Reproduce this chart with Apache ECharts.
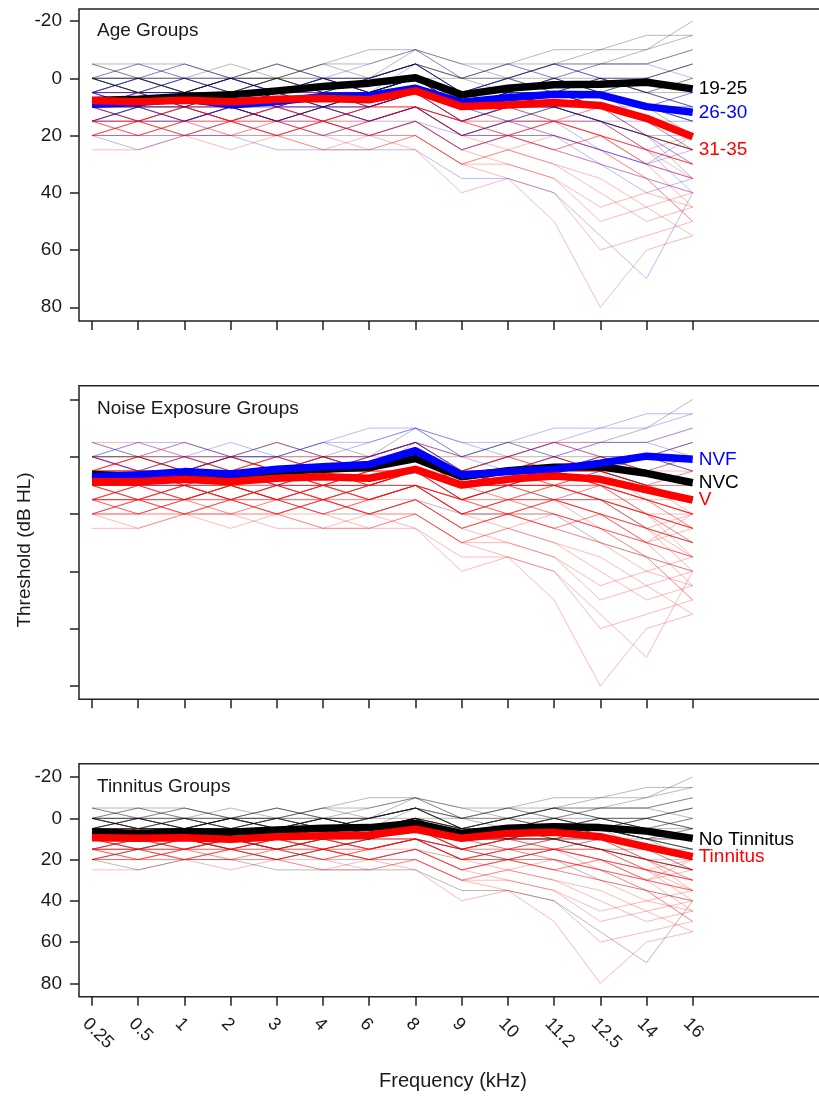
<!DOCTYPE html>
<html>
<head>
<meta charset="utf-8">
<script src="https://cdn.jsdelivr.net/npm/echarts@6/dist/echarts.min.js"></script>
<style>
  html, body { margin: 0; padding: 0; background: #fff; }
  #chart { width: 819px; height: 1096px; }
</style>
</head>
<body>
<div id="chart"></div>
<script>
// 频率 (kHz)
const freqs = ['0.25', '0.5', '1', '2', '3', '4', '6', '8', '9', '10', '11.2', '12.5', '14', '16'];
const yTicks = [-20, 0, 20, 40, 60, 80];

// group means (dB HL)
const age1925 = [7.8, 7.3, 6.4, 5.8, 4.4, 2.9, 1.7, -0.2, 5.8, 3.5, 2.3, 2.1, 1.4, 3.7];
const age2630 = [9.1, 8.5, 7.2, 9.3, 8.1, 6.4, 6.1, 3.5, 8.4, 6.8, 5.6, 5.8, 9.9, 11.9];
const age3135 = [7.8, 8.2, 7.7, 8.2, 7.3, 7.1, 7.5, 4.4, 9.9, 9.3, 8.5, 9.5, 14.0, 20.4];

const noiseNVC = [6.2, 7.0, 6.0, 7.0, 5.2, 4.4, 3.7, 0.6, 7.0, 4.9, 3.7, 3.5, 5.8, 9.1];
const noiseNVF = [7.0, 6.4, 5.2, 6.0, 4.4, 3.5, 2.7, -2.1, 6.4, 5.2, 4.4, 2.3, -0.2, 0.9];
const noiseV = [8.7, 8.7, 7.9, 8.7, 7.5, 7.0, 7.5, 4.4, 9.9, 7.9, 6.7, 7.9, 11.6, 15.1];

const tinNo = [6.5, 7.3, 6.5, 6.8, 5.7, 4.8, 4.5, 2.4, 7.3, 4.8, 4.1, 4.5, 6.2, 9.7];
const tinYes = [9.4, 9.7, 9.4, 10.2, 8.9, 8.4, 8.1, 5.3, 9.7, 7.3, 6.8, 8.9, 13.8, 18.6];

// individual audiograms (estimated from the faint lines)
const subjects = [
  [5, 5, 0, 5, 5, 0, 5, 0, 10, 5, 5, 0, 5, 10],
  [10, 10, 5, 10, 5, 10, 5, 0, 10, 5, 5, 5, 10, 15],
  [0, 0, -5, 0, 0, -5, 0, -10, 0, -5, -5, -5, -10, -20],
  [15, 15, 10, 15, 10, 10, 10, 5, 15, 10, 10, 15, 20, 25],
  [10, 5, 5, 5, 10, 5, 5, 5, 10, 10, 5, 10, 15, 20],
  [5, 10, 10, 10, 5, 5, 10, 5, 15, 10, 10, 10, 20, 30],
  [20, 20, 15, 20, 15, 20, 15, 10, 20, 20, 15, 20, 30, 45],
  [0, 5, 5, 0, 5, 0, 0, -5, 5, 0, -5, 0, 0, 5],
  [10, 15, 10, 15, 15, 10, 15, 10, 15, 15, 20, 25, 35, 50],
  [5, 0, 5, 5, 0, 5, 5, 0, 10, 5, 0, 5, 10, 20],
  [15, 10, 15, 10, 15, 15, 20, 15, 25, 20, 25, 30, 40, 35],
  [5, 5, 10, 5, 10, 10, 5, 5, 5, 10, 5, 10, 15, 15],
  [-5, 0, 0, -5, 0, -5, -10, -10, -5, -5, -10, -10, -15, -15],
  [10, 10, 10, 15, 10, 15, 10, 10, 20, 15, 15, 20, 25, 30],
  [20, 15, 20, 20, 20, 15, 20, 20, 30, 25, 30, 35, 45, 40],
  [5, 10, 5, 10, 5, 10, 10, 5, 10, 10, 10, 5, 10, 15],
  [0, -5, 0, 0, -5, 0, -5, -10, 0, -5, 0, -5, -5, 0],
  [10, 10, 15, 10, 15, 10, 15, 10, 15, 10, 15, 15, 20, 20],
  [15, 20, 15, 15, 10, 15, 10, 10, 20, 15, 15, 15, 25, 35],
  [25, 25, 20, 25, 20, 25, 25, 20, 30, 30, 35, 50, 45, 55],
  [0, 0, 5, 0, 5, 5, 5, 0, 5, 5, 5, 0, 5, 0],
  [5, 5, 5, 10, 10, 5, 10, 5, 10, 5, 10, 10, 10, 15],
  [10, 5, 10, 10, 5, 10, 5, 5, 10, 10, 5, 10, 15, 25],
  [15, 15, 15, 10, 15, 20, 20, 15, 20, 20, 20, 30, 35, 40],
  [0, 5, 0, 5, 5, 0, 5, -5, 5, 5, 0, 5, 0, 5],
  [20, 20, 20, 15, 20, 20, 15, 15, 25, 20, 20, 25, 30, 25],
  [10, 15, 10, 10, 15, 10, 10, 5, 15, 10, 10, 10, 15, 20],
  [5, 0, 0, 5, 0, 0, 0, -5, 0, 0, -5, 0, 5, 5],
  [15, 10, 10, 15, 10, 10, 15, 10, 20, 15, 15, 25, 30, 35],
  [10, 10, 5, 5, 10, 10, 10, 10, 15, 10, 15, 15, 25, 30],
  [5, 5, 5, 0, 5, 5, 0, 0, 5, 0, 5, 5, 10, 10],
  [20, 15, 15, 20, 15, 15, 20, 15, 25, 30, 35, 45, 40, 45],
  [15, 15, 20, 20, 20, 25, 20, 20, 30, 35, 40, 60, 55, 50],
  [10, 10, 15, 15, 20, 15, 20, 25, 40, 35, 50, 80, 60, 55],
  [20, 25, 20, 20, 25, 25, 25, 25, 35, 35, 40, 55, 70, 40],
  [0, 5, 5, 5, 0, 5, 5, 5, 10, 10, 10, 15, 20, 25],
  [5, 0, 5, 0, 5, 0, 5, 0, 5, 0, 5, 5, 0, -5],
  [15, 20, 15, 10, 15, 10, 15, 10, 15, 20, 15, 20, 25, 30],
  [-5, -5, 0, 0, -5, 0, 0, -5, 0, 0, -5, -5, -5, -10],
  [10, 5, 10, 5, 10, 5, 10, 5, 10, 10, 10, 15, 20, 35],
  [0, 5, 0, 5, 0, 5, 0, -5, 5, 0, 5, 0, 5, 0],
  [5, 0, 5, 0, 5, 0, 5, 0, 5, 5, 0, 5, 10, 5],
  [10, 15, 10, 15, 10, 15, 10, 5, 15, 10, 15, 10, 15, 20],
  [15, 10, 15, 10, 15, 10, 15, 10, 20, 15, 10, 15, 20, 25],
  [0, 0, 0, 0, 0, 0, 0, -5, 5, 0, 0, 0, 0, 5],
  [10, 10, 10, 10, 10, 10, 10, 5, 10, 10, 10, 15, 15, 20],
  [15, 15, 15, 15, 15, 15, 15, 10, 15, 15, 15, 20, 25, 30],
  [20, 15, 20, 15, 20, 15, 20, 15, 25, 20, 25, 30, 35, 40],
  [5, 10, 5, 10, 5, 10, 5, 0, 10, 5, 10, 5, 10, 15],
  [0, 5, 5, 0, 0, 5, 0, -5, 0, 5, 0, -5, -5, -10],
  [10, 5, 0, 5, 10, 5, 0, -5, 5, 10, 5, 5, 10, 5],
  [5, 5, 10, 15, 10, 5, 10, 5, 15, 10, 5, 10, 20, 25],
  [15, 10, 5, 10, 15, 10, 5, 0, 10, 15, 10, 5, 15, 20],
  [-5, 0, 5, 0, -5, 0, 5, 0, 0, -5, 0, 5, 0, -5],
  [20, 20, 15, 10, 15, 20, 15, 10, 20, 25, 20, 25, 35, 50],
  [10, 15, 20, 15, 10, 15, 20, 15, 25, 20, 15, 20, 30, 35],
  [5, 0, -5, 0, 5, 0, 5, 0, 5, 0, -5, 0, 5, 10],
  [15, 10, 10, 5, 10, 15, 10, 5, 15, 10, 5, 10, 20, 30],
  [0, 5, 10, 5, 0, 5, 10, 5, 10, 5, 10, 15, 20, 25],
  [10, 5, 10, 15, 20, 15, 10, 5, 15, 20, 25, 20, 25, 20],
  [5, 10, 15, 10, 5, 10, 15, 10, 20, 15, 10, 15, 25, 40],
  [20, 15, 10, 15, 20, 15, 10, 10, 15, 20, 15, 10, 15, 25],
  [0, -5, -5, 0, 0, -5, -5, -10, -5, 0, -5, -10, -10, -15],
  [10, 10, 5, 0, 5, 10, 5, 0, 10, 5, 0, 5, 5, 10],
  [15, 20, 20, 15, 15, 20, 25, 20, 30, 25, 30, 40, 50, 45],
  [5, 5, 5, 5, 5, 5, 5, 0, 5, 5, 5, 5, 10, 10],
  [10, 15, 15, 10, 15, 10, 5, 5, 10, 15, 20, 25, 30, 20],
  [0, 0, 5, 10, 5, 0, 5, 0, 10, 5, 5, 10, 15, 20],
  [15, 15, 10, 10, 10, 15, 15, 10, 20, 20, 25, 20, 30, 35],
  [5, 10, 10, 5, 10, 5, 0, -5, 5, 10, 5, 0, 0, -5]
];
// group index of each subject: age 0=19-25 1=26-30 2=31-35, noise 0=NVC 1=NVF 2=V, tinnitus 0=no 1=yes
const ageGroup = [0, 0, 0, 2, 1, 2, 2, 1, 2, 0, 1, 0, 0, 2, 2, 1, 1, 1, 2, 2, 0, 1, 0, 1, 1, 1, 0, 0, 1, 2, 1, 2, 2, 2, 1, 0, 0, 2, 0, 1,
  0, 1, 2, 0, 0, 1, 2, 2, 1, 0, 1, 2, 0, 0, 2, 2, 1, 1, 0, 2, 1, 2, 0, 0, 2, 1, 1, 0, 2, 0];
const noiseGroup = [0, 2, 0, 2, 2, 2, 2, 1, 2, 2, 2, 2, 1, 2, 2, 0, 1, 2, 2, 2, 0, 2, 2, 0, 1, 2, 2, 2, 2, 0, 2, 2, 2, 2, 2, 2, 2, 2, 2, 2,
  2, 2, 2, 2, 0, 2, 2, 2, 2, 1, 2, 2, 2, 0, 2, 2, 2, 2, 2, 2, 2, 2, 1, 2, 2, 0, 2, 2, 2, 1];
const tinGroup = [0, 0, 0, 1, 0, 1, 1, 0, 1, 0, 1, 0, 0, 1, 1, 0, 0, 1, 1, 1, 0, 0, 1, 0, 0, 1, 0, 0, 1, 1, 0, 1, 1, 1, 0, 0, 0, 1, 0, 1,
  0, 0, 1, 1, 0, 0, 1, 1, 0, 0, 0, 1, 0, 0, 1, 1, 0, 1, 0, 1, 1, 0, 0, 0, 1, 0, 1, 0, 1, 0];

const FONT = 'Liberation Sans, Arial, sans-serif';
const xMin = -0.2813, xMax = 16.166;
const idx = freqs.map((f, i) => i);

const panels = [
  { top: 9, height: 312, yMin: -24.2, yMax: 84.8, yLabels: true, xLabels: false,
    title: 'Age Groups', titleY: 31, member: ageGroup,
    groups: [
      { name: '19-25', color: '#000000', mean: age1925, z: 6, dy: 0 },
      { name: '26-30', color: '#0000ff', mean: age2630, z: 5, dy: 0 },
      { name: '31-35', color: '#ff0000', mean: age3135, z: 7, dy: 13 }
    ] },
  { top: 385.7, height: 313.6, yMin: -24.8, yMax: 84.7, yLabels: false, xLabels: false,
    title: 'Noise Exposure Groups', titleY: 409, member: noiseGroup,
    groups: [
      { name: 'NVC', color: '#000000', mean: noiseNVC, z: 5, dy: 0 },
      { name: 'NVF', color: '#0000ff', mean: noiseNVF, z: 6, dy: 0 },
      { name: 'V', color: '#ff0000', mean: noiseV, z: 7, dy: 0 }
    ] },
  { top: 763.7, height: 233, yMin: -26.5, yMax: 86.5, yLabels: true, xLabels: true,
    title: 'Tinnitus Groups', titleY: 787, member: tinGroup,
    groups: [
      { name: 'No Tinnitus', color: '#000000', mean: tinNo, z: 5, dy: 1 },
      { name: 'Tinnitus', color: '#ff0000', mean: tinYes, z: 7, dy: 0 }
    ] }
];

const grid = [], xAxis = [], yAxis = [], series = [], graphic = [];

panels.forEach((p, k) => {
  // 右边框画在画布外
  grid.push({ left: 79, top: p.top, width: 760, height: p.height, show: true,
    outerBoundsMode: 'none', containLabel: false,
    borderColor: '#222', borderWidth: 1.5, backgroundColor: 'transparent' });
  xAxis.push({
    type: 'value', gridIndex: k, min: xMin, max: xMax, position: 'bottom',
    axisLine: { show: false, onZero: false },
    splitLine: { show: false },
    axisTick: { show: true, customValues: idx, length: 9, lineStyle: { color: '#222', width: 1.5 } },
    axisLabel: {
      show: p.xLabels, customValues: idx, rotate: -45, margin: 18,
      align: 'left', verticalAlign: 'top',
      fontSize: 18, fontFamily: FONT, color: '#1a1a1a',
      formatter: v => freqs[Math.round(v)]
    }
  });
  yAxis.push({
    type: 'value', gridIndex: k, inverse: true, min: p.yMin, max: p.yMax, position: 'left',
    axisLine: { show: false, onZero: false },
    splitLine: { show: false },
    axisTick: { show: true, customValues: yTicks, length: 9, lineStyle: { color: '#222', width: 1.5 } },
    axisLabel: { show: p.yLabels, customValues: yTicks, margin: 17, fontSize: 19, fontFamily: FONT, color: '#1a1a1a' }
  });

  // 单个被试曲线
  subjects.forEach((s, i) => {
    series.push({
      type: 'line', xAxisIndex: k, yAxisIndex: k, silent: true, animation: false,
      symbol: 'none', z: 2,
      data: s.map((v, j) => [j, v]),
      lineStyle: { color: p.groups[p.member[i]].color, width: 1, opacity: 0.28 }
    });
  });

  // 组均值曲线
  p.groups.forEach(g => {
    series.push({
      name: g.name, type: 'line', xAxisIndex: k, yAxisIndex: k, silent: true, animation: false,
      symbol: 'none', z: g.z,
      data: g.mean.map((v, j) => [j, v]),
      lineStyle: { color: g.color, width: 7.5, join: 'round' },
      endLabel: { show: true, formatter: '{a}', color: g.color, fontSize: 19,
        fontFamily: FONT, distance: 6, offset: [0, g.dy] }
    });
  });

  graphic.push({ type: 'text', x: 97, y: p.titleY,
    style: { text: p.title, font: '19px ' + FONT, fill: '#1a1a1a', verticalAlign: 'middle' } });
});

graphic.push({ type: 'text', x: 25, y: 550, rotation: Math.PI / 2,
  style: { text: 'Threshold (dB HL)', font: '19px ' + FONT, fill: '#1a1a1a', align: 'center', verticalAlign: 'middle' } });
graphic.push({ type: 'text', x: 453, y: 1081,
  style: { text: 'Frequency (kHz)', font: '20px ' + FONT, fill: '#1a1a1a', align: 'center', verticalAlign: 'middle' } });

const chart = echarts.init(document.getElementById('chart'));
chart.setOption({ animation: false, grid, xAxis, yAxis, series, graphic });
</script>
</body>
</html>
